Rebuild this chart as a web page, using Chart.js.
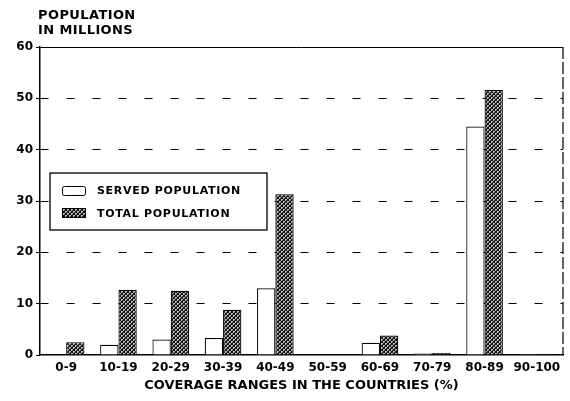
<!DOCTYPE html>
<html>
<head>
<meta charset="utf-8">
<script src="https://cdn.jsdelivr.net/npm/chart.js@4"></script>
<style>
  body { margin: 0; background: #fff; }
  canvas { display: block; }
</style>
</head>
<body>
<canvas id="myChart" width="570" height="401"></canvas>
<script>
// data (millions)
var ranges = ['0-9', '10-19', '20-29', '30-39', '40-49', '50-59', '60-69', '70-79', '80-89', '90-100'];
var served = [0.1, 2.0, 3.0, 3.3, 13.0, 0.1, 2.4, 0.3, 44.5, 0.2];
var total = [2.5, 12.7, 12.5, 8.8, 31.3, 0.1, 3.8, 0.4, 51.6, 0.2];
var yTicks = [0, 10, 20, 30, 40, 50, 60];
var yTitle = ['POPULATION', 'IN MILLIONS'];
var xTitle = 'COVERAGE RANGES IN THE COUNTRIES (%)';

var FONT = "'DejaVu Sans', sans-serif";

// crosshatch fill for the total bars
function makeHatch() {
  var c = document.createElement('canvas');
  c.width = 4; c.height = 4;
  var g = c.getContext('2d');
  g.fillStyle = '#bbb';
  g.fillRect(0, 0, 4, 4);
  g.fillStyle = '#111';
  for (var i = 0; i < 4; i++) {
    g.fillRect(i, i, 1, 1);
    g.fillRect(3 - i, i, 1, 1);
  }
  g.fillStyle = '#444';
  g.fillRect(0, 2, 1, 1);
  g.fillRect(2, 0, 1, 1);
  return g.createPattern(c, 'repeat');
}
var hatch = makeHatch();

var extras = {
  id: 'extras',
  afterDraw: function(chart) {
    var ctx = chart.ctx, a = chart.chartArea;
    ctx.save();
    // y axis title, top left
    ctx.fillStyle = '#000';
    ctx.font = 'bold 13px ' + FONT;
    ctx.letterSpacing = '0.4px';
    ctx.textBaseline = 'middle';
    ctx.textAlign = 'left';
    ctx.fillText(yTitle[0], 38, 16);
    ctx.fillText(yTitle[1], 38, 31);

    // dashed right border
    ctx.strokeStyle = '#000';
    ctx.lineWidth = 1.2;
    ctx.setLineDash([12, 3]);
    ctx.beginPath();
    ctx.moveTo(a.right, a.top);
    ctx.lineTo(a.right, a.bottom);
    ctx.stroke();
    ctx.setLineDash([]);

    // legend box
    var ds = chart.data.datasets;
    ctx.fillStyle = '#fff';
    ctx.fillRect(50, 173, 217, 57);
    ctx.lineWidth = 1.3;
    ctx.strokeRect(50, 173, 217, 57);
    ctx.lineWidth = 1;
    ctx.fillStyle = '#fff';
    ctx.beginPath();
    ctx.roundRect(62.5, 186.5, 23, 9, 2);
    ctx.fill();
    ctx.stroke();
    ctx.fillStyle = hatch;
    ctx.fillRect(62, 208, 24, 10);
    ctx.strokeRect(62.5, 208.5, 23, 9);
    ctx.fillStyle = '#000';
    ctx.font = 'bold 11px ' + FONT;
    ctx.letterSpacing = '0.7px';
    ctx.fillText(ds[0].label, 97, 191);
    ctx.fillText(ds[1].label, 97, 214);
    ctx.restore();
  }
};

var ctx = document.getElementById('myChart');
var myChart = new Chart(ctx, {
  type: 'bar',
  data: {
    labels: ranges,
    datasets: [{
      label: 'SERVED POPULATION',
      data: served,
      backgroundColor: '#fff',
      borderColor: '#000',
      borderWidth: 1.2,
      barPercentage: 1.0,
      categoryPercentage: 0.7
    }, {
      label: 'TOTAL POPULATION',
      data: total,
      backgroundColor: hatch,
      borderColor: '#000',
      borderWidth: 1.2,
      barPercentage: 1.0,
      categoryPercentage: 0.7
    }]
  },
  options: {
    responsive: false,
    animation: false,
    layout: { padding: { top: 47, right: 7, bottom: 0, left: 0 } },
    plugins: {
      legend: { display: false },
      title: { display: false },
      tooltip: { enabled: false }
    },
    scales: {
      x: {
        afterFit: function(s) { s.height = 46; },
        grid: { display: false, drawTicks: false },
        border: { display: true, color: '#000', width: 1.5 },
        ticks: {
          color: '#000',
          font: { family: FONT, size: 12, weight: 'bold' },
          padding: 6,
          maxRotation: 0,
          autoSkip: false
        },
        title: {
          display: true,
          text: xTitle,
          color: '#000',
          font: { family: FONT, size: 13, weight: 'bold' },
          padding: { top: 0, bottom: 8 }
        }
      },
      y: {
        min: 0,
        max: 60,
        afterFit: function(s) { s.width = 40; },
        afterBuildTicks: function(s) {
          s.ticks = yTicks.map(function(v) { return { value: v }; });
        },
        grid: {
          color: function(c) { return c.tick && c.tick.value === 0 ? 'rgba(0,0,0,0)' : '#000'; },
          lineWidth: 1,
          tickLength: 4,
          tickColor: '#000'
        },
        border: {
          display: true,
          color: '#000',
          width: 1.5,
          dash: function(c) { return c.tick && c.tick.value === 60 ? [] : [8, 18]; }
        },
        ticks: {
          color: '#000',
          font: { family: FONT, size: 12, weight: 'bold' },
          padding: 3
        }
      }
    }
  },
  plugins: [extras]
});
</script>
</body>
</html>
